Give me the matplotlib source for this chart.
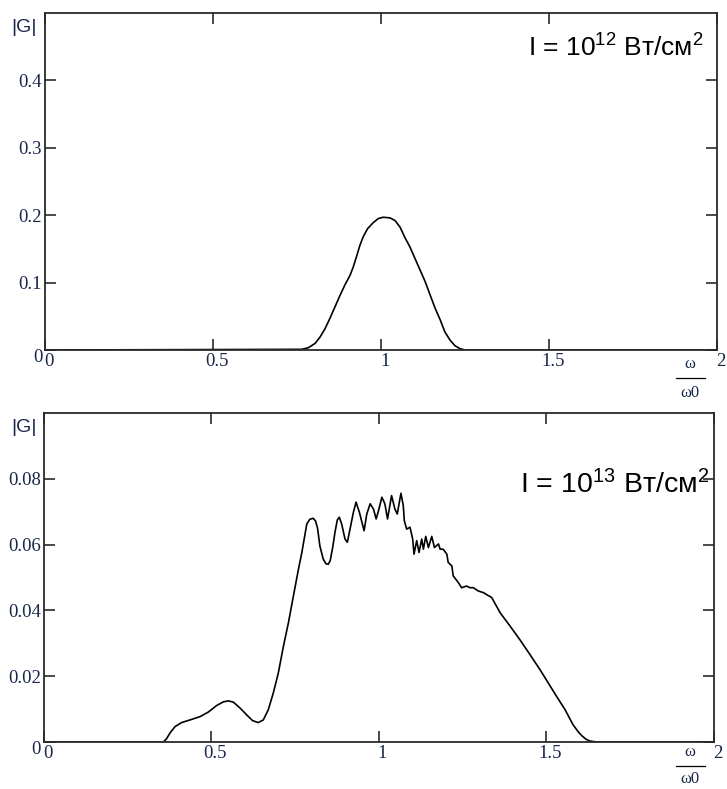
import matplotlib
matplotlib.use("Agg")
import matplotlib.pyplot as plt
import matplotlib.transforms as mtransforms

# |G| spectrum at I = 1e12 W/cm^2
w_low = [0.0, 0.764, 0.784, 0.804, 0.818, 0.833, 0.848, 0.863, 0.878, 0.893,
         0.908, 0.918, 0.928, 0.937, 0.947, 0.960, 0.977, 0.992, 1.007, 1.027,
         1.042, 1.057, 1.071, 1.086, 1.101, 1.116, 1.131, 1.146, 1.161, 1.176,
         1.190, 1.205, 1.220, 1.235, 1.250, 2.0]
g_low = [0.0, 0.001, 0.0034, 0.0099, 0.0188, 0.0312, 0.047, 0.064, 0.081, 0.097,
         0.111, 0.124, 0.140, 0.155, 0.168, 0.180, 0.189, 0.195, 0.197, 0.196,
         0.192, 0.182, 0.167, 0.153, 0.136, 0.119, 0.102, 0.082, 0.062, 0.045,
         0.027, 0.015, 0.0064, 0.002, 0.0, 0.0]

# |G| spectrum at I = 1e13 W/cm^2
w_high = [0.0, 0.358, 0.368, 0.378, 0.393, 0.412, 0.437, 0.467, 0.492, 0.517,
          0.537, 0.552, 0.567, 0.587, 0.607, 0.624, 0.641, 0.656, 0.671, 0.686,
          0.701, 0.716, 0.731, 0.746, 0.761, 0.771, 0.779, 0.786, 0.795, 0.805,
          0.812, 0.818, 0.825, 0.835, 0.843, 0.850, 0.856, 0.863, 0.870, 0.877,
          0.883, 0.890, 0.900, 0.907, 0.915, 0.925, 0.933, 0.943, 0.957, 0.965,
          0.975, 0.985, 0.993, 1.000, 1.010, 1.019, 1.027, 1.039, 1.049, 1.056,
          1.067, 1.074, 1.077, 1.084, 1.094, 1.102, 1.106, 1.114, 1.121, 1.129,
          1.134, 1.141, 1.149, 1.159, 1.167, 1.179, 1.184, 1.193, 1.204, 1.208,
          1.219, 1.223, 1.238, 1.248, 1.263, 1.273, 1.283, 1.298, 1.313, 1.338,
          1.363, 1.393, 1.422, 1.452, 1.482, 1.507, 1.532, 1.557, 1.581, 1.597,
          1.607, 1.620, 1.631, 1.651, 2.0]
g_high = [0.0, 0.0, 0.0011, 0.0028, 0.0047, 0.0059, 0.0067, 0.0077, 0.0091, 0.0111,
          0.0122, 0.0125, 0.0121, 0.0103, 0.0082, 0.0065, 0.0059, 0.0067, 0.0098, 0.0149,
          0.021, 0.029, 0.0362, 0.0444, 0.0525, 0.0575, 0.0622, 0.0663, 0.0677, 0.0680,
          0.0672, 0.0650, 0.0596, 0.0556, 0.0542, 0.0540, 0.0552, 0.0590, 0.0637, 0.0675,
          0.0683, 0.0663, 0.0617, 0.0607, 0.0647, 0.0698, 0.0729, 0.0698, 0.0642, 0.0693,
          0.0724, 0.0708, 0.0678, 0.0703, 0.0744, 0.0724, 0.0678, 0.0749, 0.0708, 0.0693,
          0.0756, 0.0718, 0.0673, 0.0647, 0.0653, 0.0617, 0.0571, 0.0612, 0.0576, 0.0617,
          0.0586, 0.0625, 0.0591, 0.0625, 0.0591, 0.0602, 0.0586, 0.0586, 0.0571, 0.0546,
          0.0535, 0.0505, 0.0485, 0.0469, 0.0474, 0.0469, 0.0469, 0.0459, 0.0454, 0.0439,
          0.0393, 0.0352, 0.0311, 0.0266, 0.0220, 0.0179, 0.0138, 0.0098, 0.0052, 0.0030,
          0.0019, 0.0008, 0.0003, 0.0, 0.0]

x_ticks = [0, 0.5, 1, 1.5, 2]
x_labels = ["0", "0.5", "1", "1.5", "2"]
y_ticks_low = [0, 0.1, 0.2, 0.3, 0.4]
y_labels_low = ["0", "0.1", "0.2", "0.3", "0.4"]
y_ticks_high = [0, 0.02, 0.04, 0.06, 0.08]
y_labels_high = ["0", "0.02", "0.04", "0.06", "0.08"]

plt.rcParams["mathtext.fontset"] = "custom"
plt.rcParams["mathtext.rm"] = "Liberation Sans"
plt.rcParams["mathtext.it"] = "Liberation Sans"

W, H = 727, 789
fig = plt.figure(figsize=(W / 100, H / 100), dpi=100)

LABEL_COLOR = "#18264a"
SPINE_COLOR = "#2a2a2a"


def make_axes(rect, xs, ys, ylim, yticks, ylabels, title, title_xy, title_size, frac_y):
    ax = fig.add_axes(rect)
    ax.plot(xs, ys, color="black", lw=1.2, solid_joinstyle="round")
    ax.set_xlim(0, 2)
    ax.set_ylim(0, ylim)
    ax.set_xticks(x_ticks)
    ax.set_xticklabels(x_labels)
    ax.set_yticks(yticks)
    ax.set_yticklabels(ylabels)
    ax.tick_params(direction="in", length=8, width=1.2, top=True, right=True,
                   colors=SPINE_COLOR, labelcolor=LABEL_COLOR, labelsize=13.5,
                   pad=2)
    for lab in ax.get_xticklabels() + ax.get_yticklabels():
        lab.set_fontfamily("Liberation Serif")
    shift = mtransforms.ScaledTranslation(4 / 100, 0, fig.dpi_scale_trans)
    for lab in ax.get_xticklabels():
        lab.set_transform(lab.get_transform() + shift)
    # y-axis "0" sits slightly below the baseline
    down = mtransforms.ScaledTranslation(0, -5 / 100, fig.dpi_scale_trans)
    ax.get_yticklabels()[0].set_transform(ax.get_yticklabels()[0].get_transform() + down)
    for s in ax.spines.values():
        s.set_color(SPINE_COLOR)
        s.set_linewidth(1.3)
    # axis name |G|
    fig.text(24 / W, 1 - title_xy[2] / H, "|G|", fontsize=14,
             family="Liberation Sans", color=LABEL_COLOR, ha="center", va="center")
    # intensity annotation
    fig.text(title_xy[0] / W, 1 - title_xy[1] / H, title, fontsize=title_size,
             family="Liberation Sans", color="black", ha="right", va="baseline")
    # fraction omega / omega0
    fx = 690 / W
    fig.text(fx, 1 - frac_y[0] / H, "ω", fontsize=12, family="Liberation Serif",
             color=LABEL_COLOR, ha="center", va="center")
    fig.add_artist(plt.Line2D([676 / W, 705 / W], [1 - frac_y[1] / H] * 2,
                              color="black", lw=0.9))
    fig.text(fx, 1 - frac_y[2] / H, "ω0", fontsize=12, family="Liberation Serif",
             color=LABEL_COLOR, ha="center", va="center")
    return ax


make_axes([45 / W, 1 - 350 / H, 672 / W, 337 / H], w_low, g_low, 0.5,
          y_ticks_low, y_labels_low,
          "I = 10$^{12}$ Вт/см$^{2}$", (703, 57, 27), 19, (364, 378, 393))

make_axes([43.5 / W, 1 - 742 / H, 670 / W, 329 / H], w_high, g_high, 0.1,
          y_ticks_high, y_labels_high,
          "I = 10$^{13}$ Вт/см$^{2}$", (709, 493, 427), 20.5, (752, 766, 779))

fig.savefig("out.png", dpi=100)
